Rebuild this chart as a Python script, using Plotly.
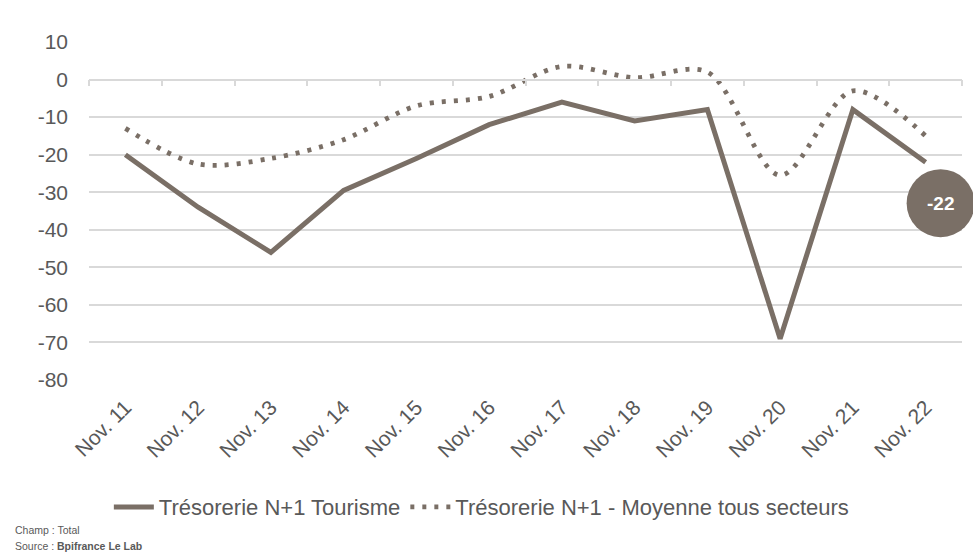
import plotly.graph_objects as go

categories = ["Nov. 11", "Nov. 12", "Nov. 13", "Nov. 14", "Nov. 15", "Nov. 16",
              "Nov. 17", "Nov. 18", "Nov. 19", "Nov. 20", "Nov. 21", "Nov. 22"]
tourisme = [-20, -34, -46, -29.5, -21, -12, -6, -11, -8, -69, -8, -22]
moyenne = [-13, -22.5, -21, -16, -7, -4.5, 3.5, 0.5, 2, -25.5, -3, -15]
name_tourisme = "Trésorerie N+1 Tourisme"
name_moyenne = "Trésorerie N+1 - Moyenne tous secteurs"
y_ticks = [10, 0, -10, -20, -30, -40, -50, -60, -70, -80]
y_ticklabels = [str(v) for v in y_ticks]

LINE = "#7A6F66"
GRID = "#D9D9D9"
TXT = "#595959"
FONT = "Liberation Sans, Arial, sans-serif"
NARROW = "Liberation Sans Narrow, Arial Narrow, Liberation Sans, sans-serif"

ymin, ymax = min(y_ticks), max(y_ticks)
n = len(categories)

fig = go.Figure()
fig.add_trace(go.Scatter(
    x=categories, y=tourisme, name=name_tourisme, mode="lines",
    line=dict(color=LINE, width=5), xaxis="x", yaxis="y"))
fig.add_trace(go.Scatter(
    x=categories, y=moyenne, name=name_moyenne, mode="lines",
    line=dict(color=LINE, width=4.8, dash="4px,8px", shape="spline", smoothing=0.9),
    xaxis="x2", yaxis="y"))

# last-value bubble
last_val = tourisme[-1]
fig.add_shape(type="circle", xref="paper", yref="y",
              xsizemode="pixel", ysizemode="pixel",
              xanchor=(n - 1 + 0.5) / n, yanchor=last_val,
              x0=-19, x1=49, y0=-75, y1=-7,
              fillcolor=LINE, line=dict(width=0), layer="above")
fig.add_annotation(x=categories[-1], y=last_val, xref="x", yref="y",
                   text="<b>%d</b>" % last_val, showarrow=False,
                   xshift=15, yshift=-41,
                   font=dict(family=FONT, size=19, color="white"))

# footer
fig.add_annotation(xref="paper", yref="paper", x=-0.087, y=-0.444,
                   xanchor="left", yanchor="middle", showarrow=False,
                   text="Champ : Total", font=dict(family=NARROW, size=10.5, color=TXT))
fig.add_annotation(xref="paper", yref="paper", x=-0.087, y=-0.491,
                   xanchor="left", yanchor="middle", showarrow=False,
                   text="Source : <b>Bpifrance Le Lab</b>",
                   font=dict(family=NARROW, size=10.5, color=TXT))

fig.update_layout(
    width=973, height=560,
    margin=dict(l=89, r=11, t=42, b=180, autoexpand=False),
    paper_bgcolor="white", plot_bgcolor="white",
    font=dict(family=FONT, size=21, color=TXT),
    showlegend=True,
    legend=dict(orientation="h", x=0.45, xanchor="center", y=-0.376, yanchor="middle",
                font=dict(family=FONT, size=22, color=TXT), itemwidth=40,
                tracegroupgap=0),
    xaxis=dict(type="category", categoryarray=categories, range=[-0.5, n - 0.5],
               showgrid=False, showline=False, ticks="", tickangle=-45,
               tickfont=dict(family=FONT, size=21, color=TXT), automargin=False,
               ticklabelstandoff=10, domain=[0, 1]),
    xaxis2=dict(type="category", categoryarray=categories, range=[-0.5, n - 0.5],
                overlaying="x", anchor="free", position=(0 - ymin) / (ymax - ymin),
                showgrid=False, showline=True, linecolor=GRID, linewidth=1.5,
                ticks="outside", tickson="boundaries", ticklen=6, tickcolor=GRID,
                tickwidth=1.5, showticklabels=False, automargin=False),
    yaxis=dict(range=[ymin, ymax], tickvals=y_ticks, ticktext=y_ticklabels,
               showgrid=True, gridcolor=GRID,
               gridwidth=1.5, zeroline=False, showline=False, ticks="",
               tickfont=dict(family=FONT, size=21, color=TXT), ticklabelstandoff=20,
               automargin=False, domain=[0, 1]),
)

fig.write_html("out.html", config={"displayModeBar": False},
               post_script="document.body.style.margin='0';document.body.style.overflow='hidden';")
